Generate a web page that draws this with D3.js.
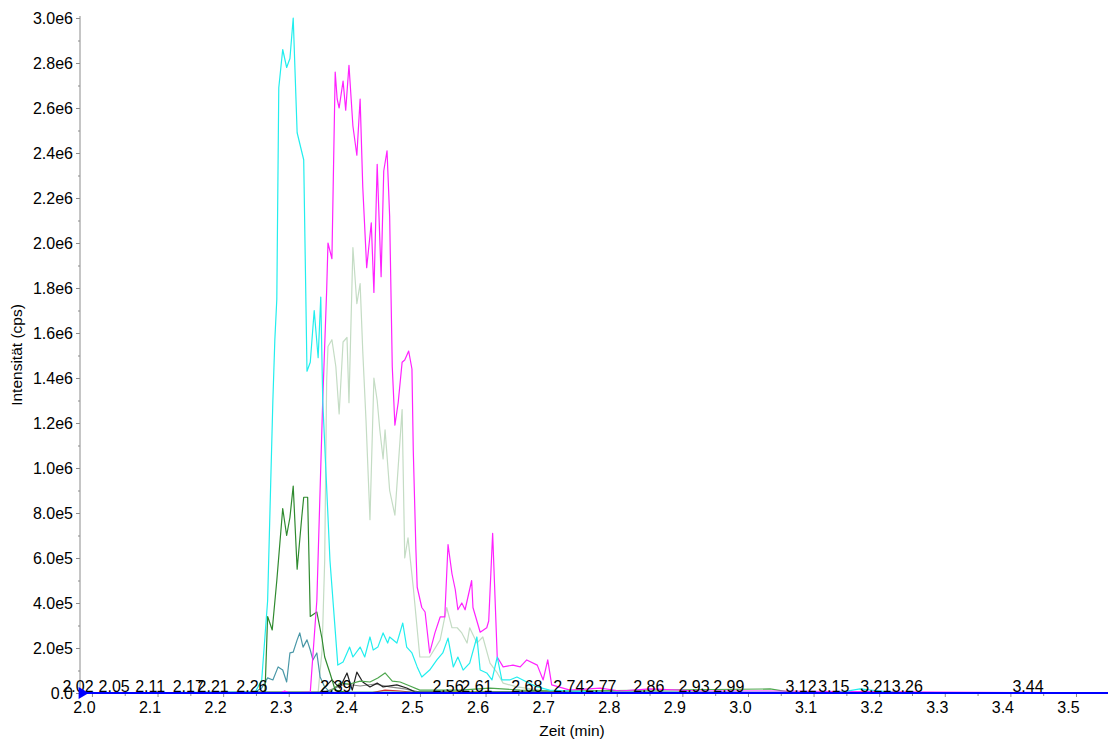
<!DOCTYPE html>
<html>
<head>
<meta charset="UTF-8">
<title>XIC</title>
<script src="https://cdnjs.cloudflare.com/ajax/libs/d3/7.8.5/d3.min.js"></script>
<style>
  body { margin: 0; background: #fff; }
  text { font-family: "Liberation Sans", Arial, sans-serif; }
</style>
</head>
<body>
<svg id="chart" width="1108" height="740"></svg>
<script>
// ---- data (time in min, intensity in cps) ----
var xTicks = [2.0, 2.1, 2.2, 2.3, 2.4, 2.5, 2.6, 2.7, 2.8, 2.9, 3.0, 3.1, 3.2, 3.3, 3.4, 3.5];
var xMinor = [2.05, 2.15, 2.25, 2.35, 2.45, 2.55, 2.65, 2.75, 2.85, 2.95, 3.05, 3.15, 3.25, 3.35, 3.45, 3.55];
var yTicks = [0, 2e5, 4e5, 6e5, 8e5, 10e5, 12e5, 14e5, 16e5, 18e5, 20e5, 22e5, 24e5, 26e5, 28e5, 30e5];
var yMinor = [1e5, 3e5, 5e5, 7e5, 9e5, 11e5, 13e5, 15e5, 17e5, 19e5, 21e5, 23e5, 25e5, 27e5, 29e5];

var peakLabels = ["2.02","2.05","2.11","2.17","2.21","2.26","2.39","2.56","2.61","2.68",
                  "2.74","2.77","2.86","2.93","2.99","3.12","3.15","3.21","3.26","3.44"];
// where each label sits on the time axis
var peakAt = [1.991, 2.046, 2.101, 2.159, 2.197, 2.256, 2.384, 2.555, 2.599, 2.675,
              2.739, 2.788, 2.861, 2.930, 2.983, 3.093, 3.143, 3.207, 3.255, 3.439];

var cyan = [[2.000,0],[2.261,0.04e5],[2.271,0.58e5],[2.280,4.1e5],[2.288,13.0e5],[2.291,15.7e5],
  [2.294,17.5e5],[2.297,26.9e5],[2.303,28.6e5],[2.309,27.8e5],[2.314,28.2e5],[2.319,30.0e5],
  [2.325,24.9e5],[2.335,23.7e5],[2.340,14.3e5],[2.345,14.7e5],[2.351,17.0e5],[2.357,14.9e5],
  [2.361,17.6e5],[2.364,13.0e5],[2.375,5.9e5],[2.387,1.24e5],[2.395,1.38e5],[2.405,2.04e5],
  [2.410,1.6e5],[2.421,2.04e5],[2.428,1.6e5],[2.436,2.49e5],[2.441,1.91e5],[2.448,2.04e5],
  [2.456,2.67e5],[2.463,2.22e5],[2.466,2.49e5],[2.477,2.22e5],[2.486,3.11e5],[2.492,2.04e5],
  [2.500,1.78e5],[2.508,1.16e5],[2.515,0.71e5],[2.527,1.02e5],[2.538,1.47e5],[2.547,1.78e5],
  [2.555,2.44e5],[2.563,1.16e5],[2.570,1.6e5],[2.578,1.02e5],[2.588,1.33e5],[2.599,2.49e5],
  [2.604,1.02e5],[2.614,0.89e5],[2.622,0.58e5],[2.630,1.6e5],[2.637,0.58e5],[2.649,0.58e5],
  [2.660,0.71e5],[2.675,0.49e5],[2.691,0.27e5],[2.710,0.13e5],[2.741,0.09e5],[2.787,0.04e5],
  [3.150,0.02e5],[3.183,0.18e5],[3.213,0.09e5],[3.240,0.02e5],[3.561,0]];

var magenta = [[2.000,0],[2.299,0],[2.306,0.09e5],[2.314,0],[2.345,0.04e5],[2.355,4.1e5],
  [2.364,13.0e5],[2.370,17.9e5],[2.372,20.0e5],[2.378,19.3e5],[2.383,27.6e5],[2.386,26.4e5],
  [2.389,26.0e5],[2.395,27.2e5],[2.399,25.9e5],[2.404,27.9e5],[2.410,25.2e5],[2.416,23.9e5],
  [2.421,26.4e5],[2.425,22.5e5],[2.431,18.9e5],[2.438,20.9e5],[2.442,17.8e5],[2.447,23.5e5],
  [2.453,18.5e5],[2.457,23.2e5],[2.462,24.1e5],[2.466,21.2e5],[2.470,14.5e5],[2.474,11.9e5],
  [2.479,12.9e5],[2.485,14.7e5],[2.489,14.8e5],[2.495,15.2e5],[2.500,14.4e5],[2.502,10.8e5],
  [2.506,6.4e5],[2.508,4.7e5],[2.515,3.8e5],[2.520,3.6e5],[2.527,1.78e5],[2.535,2.67e5],
  [2.543,3.38e5],[2.550,3.38e5],[2.555,6.6e5],[2.561,5.3e5],[2.566,4.6e5],[2.570,3.7e5],
  [2.576,4.0e5],[2.581,3.7e5],[2.591,5.0e5],[2.593,3.8e5],[2.604,2.7e5],[2.614,2.9e5],
  [2.617,3.2e5],[2.623,7.1e5],[2.630,1.6e5],[2.639,1.16e5],[2.654,1.24e5],[2.665,1.16e5],
  [2.675,1.47e5],[2.691,1.24e5],[2.700,0.58e5],[2.707,1.47e5],[2.713,0.36e5],[2.741,0.13e5],
  [2.787,0.22e5],[2.817,0.09e5],[2.863,0.18e5],[2.939,0.09e5],[3.030,0.09e5],[3.561,0]];

var paleGreen = [[2.000,0],[2.357,0.04e5],[2.363,1.9e5],[2.367,5.9e5],[2.370,13.9e5],[2.372,15.4e5],
  [2.378,15.7e5],[2.384,14.5e5],[2.389,12.4e5],[2.395,15.6e5],[2.401,15.8e5],[2.404,12.9e5],
  [2.410,19.8e5],[2.416,17.3e5],[2.421,18.2e5],[2.425,15.2e5],[2.430,12.1e5],[2.436,7.7e5],
  [2.442,14.0e5],[2.447,13.0e5],[2.451,11.7e5],[2.456,10.4e5],[2.459,11.7e5],[2.466,9.0e5],
  [2.474,7.9e5],[2.485,12.6e5],[2.489,6.0e5],[2.494,6.9e5],[2.502,4.7e5],[2.512,1.6e5],
  [2.527,1.6e5],[2.543,2.36e5],[2.553,3.8e5],[2.561,2.9e5],[2.569,2.9e5],[2.576,2.67e5],
  [2.584,2.22e5],[2.588,2.9e5],[2.599,2.22e5],[2.608,2.49e5],[2.619,1.33e5],[2.630,0.89e5],
  [2.639,0.44e5],[2.660,0.27e5],[2.695,0.13e5],[2.726,0.04e5],[3.561,0]];

var darkGreen = [[2.000,0],[2.271,0],[2.276,0.04e5],[2.280,3.4e5],[2.287,2.8e5],[2.294,5.0e5],
  [2.303,8.2e5],[2.309,7.0e5],[2.314,7.8e5],[2.319,9.2e5],[2.325,5.5e5],[2.332,7.8e5],
  [2.335,8.7e5],[2.341,8.7e5],[2.345,3.4e5],[2.355,3.6e5],[2.363,2.4e5],[2.367,1.6e5],
  [2.375,0.89e5],[2.383,0.13e5],[2.398,0.04e5],[3.561,0]];

var midGreen = [[2.000,0],[2.375,0.04e5],[2.390,0.44e5],[2.405,0.4e5],[2.421,0.53e5],[2.436,0.49e5],
  [2.448,0.67e5],[2.459,0.89e5],[2.470,0.53e5],[2.482,0.49e5],[2.497,0.31e5],[2.512,0.13e5],
  [2.573,0.13e5],[2.619,0.22e5],[2.665,0.13e5],[2.726,0.09e5],[3.046,0.18e5],[3.076,0.04e5],[3.561,0]];

var teal = [[2.000,0],[2.261,0.04e5],[2.271,0.22e5],[2.280,0.67e5],[2.288,0.58e5],[2.296,1.16e5],
  [2.303,1.02e5],[2.309,0.49e5],[2.314,1.78e5],[2.319,1.82e5],[2.325,2.36e5],[2.329,2.67e5],
  [2.334,2.04e5],[2.340,2.36e5],[2.345,1.91e5],[2.349,1.47e5],[2.355,1.78e5],[2.360,0.71e5],
  [2.367,0.27e5],[2.375,0.04e5],[3.561,0]];

var black = [[2.000,0],[2.360,0.04e5],[2.378,0.58e5],[2.390,0.22e5],[2.401,0.89e5],[2.409,0.13e5],
  [2.416,0.93e5],[2.425,0.49e5],[2.436,0.27e5],[2.447,0.44e5],[2.456,0.27e5],[2.477,0.36e5],
  [2.492,0.22e5],[2.505,0.04e5],[3.561,0]];

var gray = [[2.000,0],[2.367,0.04e5],[2.398,0.4e5],[2.421,0.31e5],[2.444,0.4e5],[2.466,0.27e5],
  [2.489,0.18e5],[2.512,0.04e5],[3.561,0]];

var red = [[2.000,0],[2.436,0],[2.459,0.13e5],[2.482,0.09e5],[2.512,0],[3.561,0]];
var yellow = [[2.000,0],[2.543,0],[2.573,0.09e5],[2.604,0.04e5],[2.634,0],[3.561,0]];
var blue = [[1.994,0],[3.561,0]];

var series = [
  { data: paleGreen, color: "#c4dcc4" },
  { data: gray,      color: "#8a8a8a" },
  { data: black,     color: "#222222" },
  { data: red,       color: "#d03030" },
  { data: yellow,    color: "#d8c820" },
  { data: midGreen,  color: "#4ea64e" },
  { data: teal,      color: "#4a98a8" },
  { data: darkGreen, color: "#2f8a2f" },
  { data: magenta,   color: "#ff22ff" },
  { data: cyan,      color: "#22eeee" }
];

// ---- chart ----
var svg = d3.select("#chart");
var x = d3.scaleLinear().domain([1.994, 3.561]).range([80, 1108]);
var y = d3.scaleLinear().domain([0, 3e6]).range([693, 18]);

function fmtY(v) {
    if (v === 0) return "0.0";
    var e = Math.floor(Math.log10(v) + 1e-9);
    return (v / Math.pow(10, e)).toFixed(1) + "e" + e;
}

// y axis
var yAxis = svg.append("g").attr("transform", "translate(80,0)")
    .call(d3.axisLeft(y).tickValues(yTicks).tickFormat(fmtY).tickSize(4).tickSizeOuter(0).tickPadding(3));
svg.append("g").attr("transform", "translate(80,0)")
    .call(d3.axisLeft(y).tickValues(yMinor).tickFormat("").tickSize(2).tickSizeOuter(0))
    .select(".domain").remove();
yAxis.select(".domain").attr("stroke", "#8c8c8c").attr("d", "M0,16V693");

// x axis
var xAxis = svg.append("g").attr("transform", "translate(0,693)")
    .call(d3.axisBottom(x).tickValues(xTicks).tickFormat(d3.format(".1f")).tickSize(4).tickSizeOuter(0).tickPadding(5));
xAxis.selectAll(".tick line").attr("x1", 8).attr("x2", 8);
var xMin = svg.append("g").attr("transform", "translate(0,693)")
    .call(d3.axisBottom(x).tickValues(xMinor).tickFormat("").tickSize(3).tickSizeOuter(0));
xMin.select(".domain").remove();
xMin.selectAll(".tick line").attr("x1", 8).attr("x2", 8);
xAxis.select(".domain").attr("stroke", "#8c8c8c");

svg.selectAll(".tick line").attr("stroke", "#8c8c8c");
svg.selectAll(".tick text").attr("font-size", "16px").attr("fill", "#000")
    .attr("font-family", "'Liberation Sans', Arial, sans-serif");

// axis titles
svg.append("text").attr("x", 572).attr("y", 736).attr("text-anchor", "middle")
    .attr("font-size", "15.5px").attr("fill", "#000").text("Zeit (min)");
svg.append("text").attr("transform", "translate(22,355) rotate(-90)").attr("text-anchor", "middle")
    .attr("font-size", "15.5px").attr("fill", "#000").text("Intensität (cps)");

// traces
var line = d3.line().x(function (d) { return x(d[0]); }).y(function (d) { return y(d[1]); });
svg.append("g").selectAll("path").data(series).enter().append("path")
    .attr("d", function (d) { return line(d.data); })
    .attr("fill", "none")
    .attr("stroke", function (d) { return d.color; })
    .attr("stroke-width", 1.2)
    .attr("stroke-linejoin", "round");

// peak labels
svg.append("g").selectAll("text").data(peakLabels).enter().append("text")
    .attr("x", function (d, i) { return x(peakAt[i]); })
    .attr("y", 692)
    .attr("text-anchor", "middle")
    .attr("font-size", "16px")
    .attr("fill", "#000")
    .text(function (d) { return d; });

// blue baseline trace on top, with its start marker
svg.append("path").attr("d", line(blue)).attr("fill", "none")
    .attr("stroke", "#0000ff").attr("stroke-width", 2);
svg.append("path")
    .attr("d", d3.symbol().type(d3.symbolTriangle).size(60)())
    .attr("transform", "translate(" + (x(blue[0][0]) + 2) + "," + y(blue[0][1]) + ") rotate(90)")
    .attr("fill", "#0000ff");
</script>
</body>
</html>
